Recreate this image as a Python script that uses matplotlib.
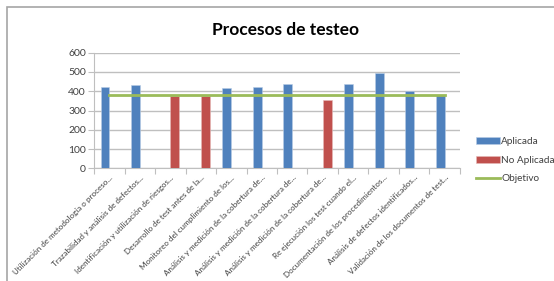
import numpy as np
import matplotlib
matplotlib.use("Agg")
import matplotlib.pyplot as plt
from matplotlib.patches import Rectangle

plt.rcParams["font.family"] = ["Lato", "DejaVu Sans"]

categories = [
    "Utilización de metodología o proceso...",
    "Trazabilidad y análisis de defectos...",
    "Identificación y utilización de riesgos...",
    "Desarrollo de test antes de la...",
    "Monitoreo del cumplimiento de los...",
    "Análisis y medición de la cobertura de...",
    "Análisis y medición de la cobertura de...",
    "Análisis y medición de la cobertura de...",
    "Re ejecución los test cuando el...",
    "Documentación de los procedimientos...",
    "Análisis de defectos identificados...",
    "Validación de los documentos de test...",
]
aplicada = [423, 432, 0, 0, 418, 421, 435, 0, 440, 496, 402, 380]
no_aplicada = [0, 0, 376, 376, 0, 0, 0, 357, 0, 0, 0, 0]
objetivo = [378] * 12

BLUE = "#4F81BD"
RED = "#C0504D"
GREEN = "#9BBB59"
GRID = "#BFBFBF"

fig = plt.figure(figsize=(5.54, 2.81), dpi=100)
# chart border (Excel chart area)
fig.patches.append(Rectangle((7 / 554, -0.1), 1.2, 1 - 7 / 281 + 0.1,
                             transform=fig.transFigure, fill=False,
                             edgecolor="#A6A6A6", linewidth=1.2))

ax = fig.add_axes([0.170, 0.401, 0.660, 0.4115])
x = np.arange(len(categories))
w = 0.29
b1 = ax.bar(x - w / 2, aplicada, w, color=BLUE, edgecolor="#B9CDE5", linewidth=0.4,
            label="Aplicada", zorder=3)
b2 = ax.bar(x + w / 2, no_aplicada, w, color=RED, edgecolor="#E6B9B8", linewidth=0.4,
            label="No Aplicada", zorder=3)
l1, = ax.plot(x, objetivo, color=GREEN, linewidth=2, label="Objetivo", zorder=4)

ax.set_xlim(-0.5, len(categories) - 0.5)
ax.set_ylim(0, 600)
ax.set_yticks(range(0, 601, 100))
ax.yaxis.grid(True, color=GRID, linewidth=1)
ax.set_axisbelow(True)
for s in ["top", "right"]:
    ax.spines[s].set_visible(False)
ax.spines["left"].set_color(GRID)
ax.spines["bottom"].set_color(GRID)
ax.tick_params(axis="y", length=4, color=GRID, labelsize=7.5, labelcolor="#404040", pad=2)

# category ticks between groups, labels at centres
ax.set_xticks(np.arange(-0.5, len(categories), 1.0))
ax.set_xticklabels([])
ax.tick_params(axis="x", length=4, color=GRID)
ax.set_xticks(x, minor=True)
ax.set_xticklabels(categories, minor=True, rotation=45, ha="right",
                   rotation_mode="anchor", fontsize=5.8, color="#404040")
ax.tick_params(axis="x", which="minor", length=0, pad=4)

fig.text(0.515, 0.895, "Procesos de testeo", ha="center", va="center",
         fontsize=12.5, fontweight="bold", color="#000000")

fig.legend(handles=[b1, b2, l1], loc="center left", bbox_to_anchor=(0.860, 0.43),
           frameon=False, fontsize=7.2, handlelength=2.4, handleheight=0.75,
           handletextpad=0.1, labelspacing=0.95, borderaxespad=0, borderpad=0,
           labelcolor="#404040")

fig.savefig("out.png", dpi=100)
